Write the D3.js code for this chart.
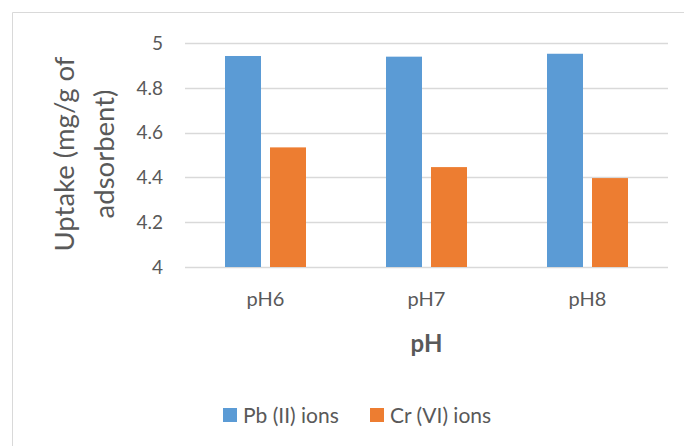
<!DOCTYPE html>
<meta charset="utf-8">
<style>
body { margin: 0; background: #fff; }
text { font-family: Lato, "Open Sans", sans-serif; fill: #595959; }
</style>
<svg width="684" height="446"></svg>
<script src="https://d3js.org/d3.v7.min.js"></script>
<script>
// categories and series
var categories = ["pH6", "pH7", "pH8"];
var seriesNames = ["Pb (II) ions", "Cr (VI) ions"];
var pbValues = [4.942, 4.939, 4.952];
var crValues = [4.534, 4.446, 4.397];
var yTicks = [4, 4.2, 4.4, 4.6, 4.8, 5];
var colors = ["#5b9bd5", "#ed7d31"];

var svg = d3.select("svg");

// outer chart border (only left and top are visible in the crop)
svg.append("path")
    .attr("d", "M12.5,446 V12.5 H684")
    .attr("fill", "none")
    .attr("stroke", "#d9d9d9")
    .attr("stroke-width", 1);

var plotL = 185, plotR = 668, plotT = 43, plotB = 267;

var x0 = d3.scaleBand().domain(categories).range([plotL, plotR])
    .paddingInner(0.497).paddingOuter(0.2485);
var x1 = d3.scaleBand().domain([0, 1]).range([0, x0.bandwidth()])
    .paddingInner(0.2).paddingOuter(0);
var y = d3.scaleLinear().domain([4, 5]).range([plotB, plotT]);

// gridlines
svg.append("g")
    .selectAll("line")
    .data(yTicks)
    .enter().append("line")
    .attr("x1", plotL).attr("x2", plotR)
    .attr("y1", function(d) { return Math.round(y(d)) + 0.5; })
    .attr("y2", function(d) { return Math.round(y(d)) + 0.5; })
    .attr("stroke", "#d9d9d9")
    .attr("stroke-width", 1.3);

// y tick labels
svg.append("g")
    .selectAll("text")
    .data(yTicks)
    .enter().append("text")
    .attr("x", 163)
    .attr("y", function(d) { return y(d); })
    .attr("dy", "0.36em")
    .attr("text-anchor", "end")
    .attr("font-size", 19)
    .text(function(d) { return d3.format("")(d); });

// bars
var rows = categories.map(function(c, i) {
  return { cat: c, vals: [pbValues[i], crValues[i]] };
});

var groups = svg.append("g")
    .selectAll("g")
    .data(rows)
    .enter().append("g")
    .attr("transform", function(d) { return "translate(" + x0(d.cat) + ",0)"; });

groups.selectAll("rect")
    .data(function(d) { return d.vals.map(function(v, j) { return { v: v, j: j }; }); })
    .enter().append("rect")
    .attr("x", function(d) { return x1(d.j); })
    .attr("width", x1.bandwidth())
    .attr("y", function(d) { return y(d.v); })
    .attr("height", function(d) { return y(4) - y(d.v); })
    .attr("fill", function(d) { return colors[d.j]; });

// x tick labels
svg.append("g")
    .selectAll("text")
    .data(categories)
    .enter().append("text")
    .attr("x", function(d) { return x0(d) + x0.bandwidth() / 2; })
    .attr("y", 306)
    .attr("text-anchor", "middle")
    .attr("font-size", 20)
    .text(function(d) { return d; });

// x axis title
svg.append("text")
    .attr("x", (plotL + plotR) / 2)
    .attr("y", 352)
    .attr("text-anchor", "middle")
    .attr("font-size", 24)
    .attr("font-weight", "bold")
    .text("pH");

// y axis title, two lines
var yt = svg.append("text")
    .attr("transform", "translate(0,154) rotate(-90)")
    .attr("text-anchor", "middle")
    .attr("font-size", 27.5);
yt.append("tspan").attr("x", 0).attr("y", 74).text("Uptake (mg/g of");
yt.append("tspan").attr("x", 0).attr("y", 114).text("adsorbent)");

// legend
var legendX = [223, 370];
var legend = svg.append("g")
    .selectAll("g")
    .data(seriesNames)
    .enter().append("g")
    .attr("transform", function(d, i) { return "translate(" + legendX[i] + ",408)"; });
legend.append("rect")
    .attr("width", 14).attr("height", 14)
    .attr("fill", function(d, i) { return colors[i]; });
legend.append("text")
    .attr("x", 20).attr("y", 7)
    .attr("dy", "0.36em")
    .attr("font-size", 21)
    .text(function(d) { return d; });
</script>
